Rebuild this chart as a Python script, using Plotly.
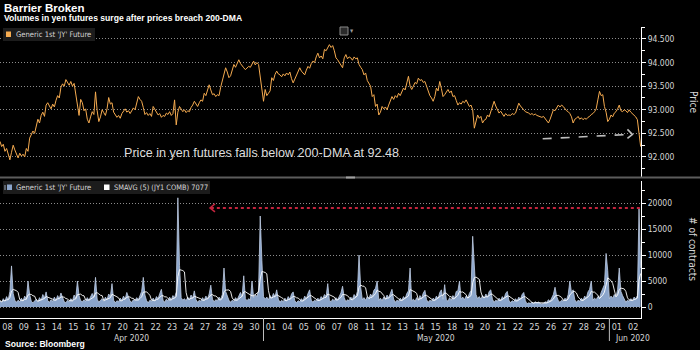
import plotly.graph_objects as go
import pandas as pd

# ---------------- data ----------------
day_labels = ["08", "09", "13", "14", "15", "16", "17", "20", "21", "22", "23", "24", "27", "28", "29", "30",
              "01", "04", "05", "06", "07", "08", "11", "12", "13", "14", "15", "18", "19", "20", "21", "22",
              "25", "26", "27", "28", "29",
              "01", "02"]
month_labels = ["Apr 2020", "May 2020", "Jun 2020"]
month_first_day = [0, 16, 37]

price_ticks = [92.0, 92.5, 93.0, 93.5, 94.0, 94.5]
volume_ticks = [0, 5000, 10000, 15000, 20000]

# Generic 1st 'JY' Future, intraday price (10 readings per trading day)
price_by_day = [
    [92.33, 92.22, 92.27, 92.12, 92.18, 92.05, 91.94, 92.10, 92.25, 92.15],
    [92.05, 91.98, 92.08, 92.02, 92.06, 92.00, 92.18, 92.12, 92.40, 92.47],
    [92.55, 92.50, 92.68, 92.80, 92.72, 92.88, 92.95, 92.86, 93.10, 93.15],
    [93.08, 93.02, 93.12, 93.06, 93.20, 93.30, 93.25, 93.48, 93.55, 93.50],
    [93.64, 93.58, 93.52, 93.60, 93.50, 93.56, 93.30, 93.10, 92.88, 93.22],
    [93.15, 92.98, 93.02, 92.80, 92.72, 92.85, 92.96, 92.90, 93.38, 92.98],
    [92.75, 92.85, 93.00, 92.94, 92.88, 93.02, 93.26, 93.12, 93.15, 92.95],
    [92.90, 92.84, 92.88, 92.82, 92.92, 92.98, 93.02, 92.95, 92.98, 92.92],
    [92.98, 93.04, 93.00, 93.12, 93.28, 93.22, 93.18, 93.05, 92.90, 92.94],
    [92.88, 92.92, 92.86, 93.07, 93.00, 92.95, 92.89, 92.92, 92.84, 92.88],
    [92.86, 92.93, 92.90, 92.96, 92.88, 92.92, 93.21, 92.68, 92.95, 93.07],
    [93.02, 92.96, 93.00, 92.94, 92.98, 92.96, 93.05, 93.10, 93.18, 93.12],
    [93.07, 93.15, 93.21, 93.18, 93.35, 93.30, 93.45, 93.53, 93.42, 93.32],
    [93.34, 93.28, 93.32, 93.30, 93.48, 93.60, 93.75, 93.89, 93.80, 93.68],
    [93.72, 93.85, 93.96, 93.90, 94.00, 94.06, 93.98, 93.92, 93.89, 93.85],
    [93.88, 93.92, 93.90, 93.98, 94.03, 93.95, 94.00, 93.96, 93.68, 93.45],
    [93.18, 93.43, 93.30, 93.35, 93.40, 93.68, 93.62, 93.75, 93.82, 93.76],
    [93.74, 93.70, 93.76, 93.72, 93.78, 93.74, 93.80, 93.66, 93.57, 93.65],
    [93.72, 93.80, 93.89, 93.82, 93.78, 93.74, 93.84, 93.92, 93.88, 93.98],
    [94.03, 94.00, 94.12, 94.20, 94.10, 94.14, 94.08, 94.28, 94.25, 94.33],
    [94.38, 94.32, 94.36, 94.25, 94.10, 94.06, 94.00, 93.92, 93.89, 94.10],
    [94.17, 94.08, 94.12, 94.10, 94.05, 94.12, 94.08, 94.10, 93.96, 93.90],
    [93.85, 93.74, 93.78, 93.62, 93.57, 93.50, 93.28, 93.32, 93.07, 93.12],
    [92.89, 92.95, 93.07, 93.02, 93.06, 93.00, 93.10, 93.18, 93.28, 93.22],
    [93.30, 93.26, 93.35, 93.30, 93.40, 93.46, 93.42, 93.55, 93.71, 93.50],
    [93.43, 93.50, 93.58, 93.55, 93.67, 93.62, 93.64, 93.58, 93.60, 93.50],
    [93.39, 93.30, 93.25, 93.18, 93.28, 93.46, 93.40, 93.60, 93.45, 93.28],
    [93.32, 93.38, 93.43, 93.36, 93.40, 93.28, 93.30, 93.20, 93.10, 93.15],
    [93.12, 93.18, 93.15, 93.21, 93.12, 93.07, 93.10, 93.00, 92.61, 92.75],
    [92.89, 92.82, 92.86, 92.72, 92.78, 92.80, 92.89, 92.85, 92.95, 93.05],
    [93.18, 93.08, 93.02, 92.93, 92.97, 92.90, 92.86, 92.92, 92.88, 92.89],
    [92.88, 92.92, 92.90, 92.93, 93.02, 93.14, 93.08, 93.05, 93.00, 92.96],
    [92.95, 92.93, 92.90, 92.92, 92.89, 92.91, 92.88, 92.87, 92.86, 92.84],
    [92.86, 92.82, 92.78, 92.72, 92.80, 92.92, 93.00, 92.98, 93.05, 93.10],
    [93.06, 93.10, 93.07, 93.02, 92.98, 92.96, 92.92, 92.85, 92.72, 92.80],
    [92.82, 92.86, 92.80, 92.83, 92.79, 92.82, 92.80, 92.84, 92.86, 92.90],
    [92.92, 92.96, 93.02, 93.21, 93.39, 93.30, 93.32, 93.07, 92.95, 92.75],
    [92.80, 92.89, 92.85, 92.93, 92.96, 93.02, 93.10, 92.98, 92.96, 93.00],
    [92.98, 92.94, 93.00, 92.95, 92.92, 92.89, 92.85, 92.79, 92.48, 92.22],
]

# Volume, # of contracts (10 readings per trading day)
volume_by_day = [
    [1200, 900, 1600, 1100, 2000, 1400, 3000, 7900, 2600, 1300],
    [900, 1300, 1000, 1700, 1200, 2100, 1500, 5000, 2400, 1100],
    [800, 1200, 1500, 1000, 1800, 1300, 2400, 1700, 2900, 1200],
    [900, 1400, 1100, 1900, 1300, 2200, 1600, 2700, 2000, 1000],
    [800, 1300, 1000, 1600, 1200, 2300, 1700, 5000, 2200, 1200],
    [1000, 1400, 1100, 1800, 1300, 2000, 2600, 1900, 5700, 1500],
    [900, 1300, 1600, 1100, 1900, 1400, 2500, 2000, 4500, 1300],
    [800, 1200, 1000, 1700, 1300, 2100, 1500, 2800, 2100, 1100],
    [900, 1400, 1200, 1800, 1400, 2400, 3000, 5700, 2300, 1200],
    [800, 1300, 1100, 1700, 1200, 2000, 1600, 2600, 3400, 1300],
    [900, 1500, 1200, 1900, 1400, 2200, 1800, 2900, 21000, 8000],
    [1800, 1300, 1600, 1200, 1900, 1400, 2300, 1700, 3100, 1400],
    [900, 1300, 1100, 1800, 1300, 2100, 1600, 2500, 4200, 1500],
    [1000, 1400, 1200, 1900, 1500, 2400, 7500, 3000, 2200, 1300],
    [900, 1300, 1100, 1800, 1400, 2300, 2800, 2000, 6000, 1600],
    [1200, 1600, 1300, 5000, 1800, 2400, 2000, 3200, 17500, 9000],
    [2000, 1500, 1900, 1400, 2200, 1700, 2600, 2000, 3300, 1500],
    [900, 1300, 1000, 1700, 1200, 2000, 1500, 2500, 2900, 1200],
    [800, 1200, 1000, 1600, 1200, 2100, 1600, 2600, 3300, 1300],
    [900, 1300, 1100, 1700, 1300, 2000, 1600, 2400, 2000, 4500],
    [1300, 1000, 1500, 1200, 1800, 1400, 2200, 2700, 4000, 1800],
    [1000, 1400, 1200, 1900, 1500, 2400, 1900, 3000, 10000, 3800],
    [1400, 1800, 1300, 2000, 1600, 2500, 2000, 3200, 3600, 5000],
    [1300, 1700, 1200, 1900, 1500, 2300, 1800, 2800, 3400, 1500],
    [900, 1300, 1100, 1700, 1300, 2000, 1600, 2600, 3100, 7500],
    [1200, 1500, 1100, 1800, 1300, 2200, 1700, 2700, 3200, 1400],
    [900, 1300, 1100, 1700, 1400, 2100, 1600, 2800, 3300, 1500],
    [4300, 1400, 1100, 1800, 1300, 2200, 1700, 3000, 3100, 5000],
    [1500, 1900, 1400, 2100, 1700, 2600, 3200, 13600, 7000, 2400],
    [1600, 2000, 1500, 2200, 1700, 2500, 1900, 3000, 3300, 1500],
    [900, 1300, 1100, 1700, 1300, 2000, 1600, 2600, 3000, 1300],
    [800, 1200, 1000, 1600, 1200, 1900, 1500, 2400, 2800, 1200],
    [600, 800, 700, 900, 750, 1000, 800, 950, 700, 600],
    [700, 1000, 900, 1400, 1100, 1800, 2400, 3800, 2000, 1200],
    [900, 1300, 1100, 1700, 1400, 2400, 5000, 2800, 3300, 1400],
    [900, 1300, 1100, 1700, 1300, 2100, 1700, 2900, 3400, 5000],
    [1300, 1700, 1400, 2000, 1700, 2800, 3600, 4300, 10300, 7000],
    [1600, 2100, 1700, 2400, 2000, 3300, 7500, 3000, 2200, 1400],
    [900, 1300, 1100, 1600, 1300, 1900, 1600, 2200, 19000, 7500],
]

dma_200 = 92.48

# ---------------- series built from the data ----------------
x_price, price = [], []
for d, vals in enumerate(price_by_day):
    for k, v in enumerate(vals):
        x_price.append(d + k / len(vals))
        price.append(v)

x_vol, volume = [], []
for d, vals in enumerate(volume_by_day):
    for k, v in enumerate(vals):
        x_vol.append(d + k / len(vals))
        volume.append(v)
sma = pd.Series(volume).rolling(5, min_periods=1).mean().tolist()

n_days = len(day_labels)
XR = [0, 38.92]

FONT = "Liberation Sans Narrow, DejaVu Sans Condensed, Arial Narrow, sans-serif"
BOLD = "Liberation Sans, Arial, sans-serif"
ORANGE = "#f5ab50"
BLUE = "#8ba5cb"
GRID = "#8c8c8c"
TXT = "#d6d6d6"

H = 350.0
W = 641.0


def py(p):  # pixel row -> paper y
    return 1 - p / H


def px(p):  # pixel column -> paper x
    return p / W


fig = go.Figure()
fig.add_trace(go.Scatter(x=x_price, y=price, mode="lines",
                         line=dict(color=ORANGE, width=1), xaxis="x", yaxis="y",
                         hoverinfo="skip", showlegend=False))
fig.add_trace(go.Scatter(x=x_vol, y=volume, mode="lines", fill="tozeroy",
                         fillcolor=BLUE, line=dict(color="#bfcde3", width=0.8),
                         xaxis="x2", yaxis="y2", hoverinfo="skip", showlegend=False))
fig.add_trace(go.Scatter(x=x_vol, y=sma, mode="lines",
                         line=dict(color="white", width=0.9),
                         xaxis="x2", yaxis="y2", hoverinfo="skip", showlegend=False))

yaxis_common = dict(side="right", showline=True, linecolor="white", linewidth=1,
                    ticks="outside", ticklen=4, tickcolor="white", tickwidth=1,
                    showgrid=True, gridcolor=GRID, griddash="1px,2px", gridwidth=1,
                    zeroline=False, tickfont=dict(family=FONT, size=8.5, color=TXT))

fig.update_layout(
    width=700, height=350,
    margin=dict(l=0, r=59, t=0, b=0),
    paper_bgcolor="black", plot_bgcolor="black",
    showlegend=False,
    xaxis=dict(domain=[0, 1], range=XR, visible=False, anchor="y", fixedrange=True),
    yaxis=dict(domain=[py(177), py(27)], range=[91.576, 94.754], anchor="x",
               tickvals=price_ticks, ticktext=[f"{t:.3f}" for t in price_ticks],
               minor=dict(dtick=0.25, tick0=92, ticklen=3, tickcolor="white", ticks="outside", showgrid=False),
               **yaxis_common),
    xaxis2=dict(domain=[0, 1], range=XR, anchor="y2", matches="x",
                tickvals=[d + 0.45 for d in range(n_days)], ticktext=day_labels,
                showline=True, linecolor="white", linewidth=1, ticks="",
                showgrid=False, zeroline=False,
                tickfont=dict(family=FONT, size=9, color=TXT)),
    yaxis2=dict(domain=[py(318), py(181)], range=[-2115, 24231], anchor="x2",
                tickvals=volume_ticks, ticktext=[str(t) for t in volume_ticks],
                minor=dict(dtick=2500, tick0=0, ticklen=3, tickcolor="white", ticks="outside", showgrid=False),
                **yaxis_common),
)

shapes = []
annotations = []

# titles
annotations.append(dict(xref="paper", yref="paper", x=px(2), y=py(8), xanchor="left", yanchor="middle",
                        text="<b>Barrier Broken</b>", showarrow=False,
                        font=dict(family=BOLD, size=11.5, color="white")))
annotations.append(dict(xref="paper", yref="paper", x=px(2), y=py(18), xanchor="left", yanchor="middle",
                        text="<b>Volumes in yen futures surge after prices breach 200-DMA</b>", showarrow=False,
                        font=dict(family=BOLD, size=8.6, color="white")))
annotations.append(dict(xref="paper", yref="paper", x=px(3), y=py(344), xanchor="left", yanchor="middle",
                        text="<b>Source: Bloomberg</b>", showarrow=False,
                        font=dict(family=BOLD, size=8.6, color="white")))

# top legend box
shapes.append(dict(type="rect", xref="paper", yref="paper", x0=px(3), x1=px(95), y0=py(41), y1=py(28),
                   fillcolor="#1c1c1c", line=dict(width=0), layer="above"))
shapes.append(dict(type="rect", xref="paper", yref="paper", x0=px(6), x1=px(11), y0=py(37), y1=py(31.5),
                   fillcolor=ORANGE, line=dict(width=0), layer="above"))
annotations.append(dict(xref="paper", yref="paper", x=px(14), y=py(34.5), xanchor="left", yanchor="middle",
                        text="Generic 1st 'JY' Future", showarrow=False,
                        font=dict(family=FONT, size=7.6, color=TXT)))

# chart-type icon at top centre
shapes.append(dict(type="rect", xref="paper", yref="paper", x0=px(340), x1=px(348), y0=py(35), y1=py(27),
                   fillcolor="#2a2a2a", line=dict(color="#8a8a8a", width=1), layer="above"))
annotations.append(dict(xref="paper", yref="paper", x=px(352), y=py(30.5), xanchor="center", yanchor="middle",
                        text="▾", showarrow=False, font=dict(family=FONT, size=7, color="#9a9a9a")))

# panel separator
shapes.append(dict(type="line", xref="paper", yref="paper", x0=0, x1=700 / W, y0=py(177.5), y1=py(177.5),
                   line=dict(color="#5c5c5c", width=2), layer="above"))
shapes.append(dict(type="line", xref="paper", yref="paper", x0=px(346), x1=px(355), y0=py(177.5), y1=py(177.5),
                   line=dict(color="#a0a0a0", width=2), layer="above"))

# bottom legend box
shapes.append(dict(type="rect", xref="paper", yref="paper", x0=px(3), x1=px(210), y0=py(194), y1=py(181),
                   fillcolor="#1c1c1c", line=dict(width=0), layer="above"))
shapes.append(dict(type="line", xref="paper", yref="paper", x0=px(5), x1=px(5), y0=py(190), y1=py(185),
                   line=dict(color="#9aa8bb", width=1), layer="above"))
shapes.append(dict(type="rect", xref="paper", yref="paper", x0=px(7), x1=px(12), y0=py(190), y1=py(184.5),
                   fillcolor=BLUE, line=dict(width=0), layer="above"))
annotations.append(dict(xref="paper", yref="paper", x=px(14), y=py(187.5), xanchor="left", yanchor="middle",
                        text="Generic 1st 'JY' Future", showarrow=False,
                        font=dict(family=FONT, size=7.6, color=TXT)))
shapes.append(dict(type="rect", xref="paper", yref="paper", x0=px(104), x1=px(109.5), y0=py(190), y1=py(184.5),
                   fillcolor="white", line=dict(width=0), layer="above"))
annotations.append(dict(xref="paper", yref="paper", x=px(112), y=py(187.5), xanchor="left", yanchor="middle",
                        text="SMAVG (5) (JY1 COMB) 7077", showarrow=False,
                        font=dict(family=FONT, size=7.4, color=TXT)))

# axis titles (read top-to-bottom)
annotations.append(dict(xref="paper", yref="paper", x=px(693), y=py(102), xanchor="center", yanchor="middle",
                        text="Price", textangle=90, showarrow=False,
                        font=dict(family=FONT, size=10, color=TXT)))
annotations.append(dict(xref="paper", yref="paper", x=px(693), y=py(249), xanchor="center", yanchor="middle",
                        text="# of contracts", textangle=90, showarrow=False,
                        font=dict(family=FONT, size=10, color=TXT)))

# month labels and separators
month_ends = month_first_day[1:] + [n_days]
for i, (lab, a, b) in enumerate(zip(month_labels, month_first_day, month_ends)):
    if i == len(month_labels) - 1:
        annotations.append(dict(xref="x2", yref="paper", x=a + 0.2, y=py(338), xanchor="left", yanchor="middle",
                                text=lab, showarrow=False, font=dict(family=FONT, size=8.5, color=TXT)))
    else:
        annotations.append(dict(xref="x2", yref="paper", x=(a + b) / 2, y=py(338), xanchor="center",
                                yanchor="middle", text=lab, showarrow=False,
                                font=dict(family=FONT, size=8.5, color=TXT)))
    if a > 0:
        shapes.append(dict(type="line", xref="x2", yref="paper", x0=a, x1=a, y0=py(318), y1=py(341),
                           line=dict(color="#bdbdbd", width=1)))

# price annotation
annotations.append(dict(xref="paper", yref="paper", x=px(122), y=py(152.5), xanchor="left", yanchor="middle",
                        text="Price in yen futures falls below 200-DMA at 92.48", showarrow=False,
                        font=dict(family="Liberation Sans, Arial, sans-serif", size=12.6, color="#dcdcdc")))

# dashed grey arrow to the 200-DMA level
shapes.append(dict(type="line", xref="x", yref="y", x0=32.95, y0=92.385, x1=38.3, y1=dma_200,
                   line=dict(color="#bdbdbd", width=1.6, dash="dash")))
shapes.append(dict(type="path", xref="x", yref="y", xsizemode="pixel", ysizemode="pixel",
                   xanchor=38.4, yanchor=dma_200, path="M -5,5 L 0,0 L -5,-4",
                   line=dict(color="#bdbdbd", width=1.6)))

# red dotted arrow at the volume surge level
shapes.append(dict(type="line", xref="x2", yref="y2", x0=38.85, y0=19050, x1=12.8, y1=19050,
                   line=dict(color="#c4243e", width=2, dash="dot")))
shapes.append(dict(type="path", xref="x2", yref="y2", xsizemode="pixel", ysizemode="pixel",
                   xanchor=12.75, yanchor=19050, path="M 5,4 L 0,0 L 5,-4",
                   line=dict(color="#c4243e", width=1.5)))

fig.update_layout(shapes=shapes, annotations=annotations)
fig.write_html("out.html")
